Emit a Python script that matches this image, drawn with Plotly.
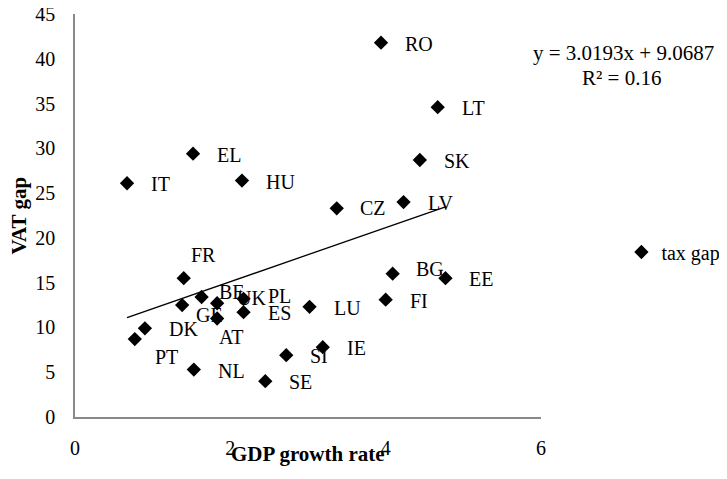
import plotly.graph_objects as go

# ---- data ----
countries = ["RO", "LT", "SK", "CZ", "LV", "EL", "IT", "HU", "FR", "BE",
             "GE", "UK", "AT", "PL", "ES", "DK", "PT", "NL", "SE", "SI",
             "IE", "LU", "FI", "BG", "EE"]
gdp_growth = [3.94, 4.67, 4.44, 3.37, 4.23, 1.52, 0.67, 2.15, 1.40, 1.63,
              1.38, 1.83, 1.83, 2.17, 2.17, 0.90, 0.77, 1.53, 2.45, 2.72,
              3.19, 3.02, 4.00, 4.09, 4.77]
vat_gap = [41.8, 34.6, 28.7, 23.3, 24.0, 29.4, 26.1, 26.4, 15.5, 13.4,
           12.5, 12.7, 11.0, 13.2, 11.7, 9.9, 8.7, 5.3, 4.0, 6.9,
           7.8, 12.3, 13.1, 16.0, 15.5]
trend_slope = 3.0193
trend_intercept = 9.0687
r_squared = 0.16
x_ticks = [0, 2, 4, 6]
y_ticks = [0, 5, 10, 15, 20, 25, 30, 35, 40, 45]

# ---- style: label offsets in pixels (dx to text left edge, dy downward) ----
default_off = (22, 1)
label_off = {
    "FR": (5, -23), "BE": (15, -5), "UK": (18, -5), "PL": (22, -3),
    "GE": (12, 10), "AT": (0, 19), "PT": (18, 18), "BG": (21, -5),
    "CZ": (21, 0),
}

FONT = "Liberation Serif, Times New Roman, serif"

# figure size (page body adds an 8px margin) and plot area in figure pixels
W, H = 719, 471
L, T = 67, 6
PW, PH = 466.5, 403


def px_x(p):   # figure pixel x -> paper
    return (p - L) / PW


def px_y(p):   # figure pixel y -> paper
    return (T + PH - p) / PH


fig = go.Figure()

xmin, xmax = min(gdp_growth), max(gdp_growth)
fig.add_trace(go.Scatter(
    x=[xmin, xmax],
    y=[trend_slope * xmin + trend_intercept, trend_slope * xmax + trend_intercept],
    mode="lines", line=dict(color="black", width=1.3),
    showlegend=False, hoverinfo="skip"))

fig.add_trace(go.Scatter(
    x=gdp_growth, y=vat_gap, mode="markers", name="tax gap",
    text=countries,
    marker=dict(symbol="diamond", size=11, color="black"),
    showlegend=True))

annotations = []
for c, xv, yv in zip(countries, gdp_growth, vat_gap):
    dx, dy = label_off.get(c, default_off)
    annotations.append(dict(
        x=xv, y=yv, xref="x", yref="y", text=c, showarrow=False,
        xanchor="left", yanchor="middle", xshift=dx, yshift=-dy,
        font=dict(family=FONT, size=20, color="black")))

annotations.append(dict(
    x=px_x(616), y=px_y(45), xref="paper", yref="paper",
    text=f"y = {trend_slope}x + {trend_intercept}", showarrow=False,
    xanchor="center", yanchor="middle",
    font=dict(family=FONT, size=21, color="black")))
annotations.append(dict(
    x=px_x(614), y=px_y(70), xref="paper", yref="paper",
    text=f"R² = {r_squared}", showarrow=False,
    xanchor="center", yanchor="middle",
    font=dict(family=FONT, size=21, color="black")))

annotations.append(dict(
    x=0.5, y=px_y(446), xref="paper", yref="paper",
    text="<b>GDP growth rate</b>", showarrow=False,
    xanchor="center", yanchor="middle",
    font=dict(family=FONT, size=21, color="black")))
annotations.append(dict(
    x=px_x(10), y=0.5, xref="paper", yref="paper",
    text="<b>VAT gap</b>", showarrow=False, textangle=-90,
    xanchor="center", yanchor="middle",
    font=dict(family=FONT, size=21, color="black")))

fig.update_layout(
    width=W, height=H,
    margin=dict(l=L, r=W - L - PW, t=T, b=H - T - PH, autoexpand=False),
    paper_bgcolor="white", plot_bgcolor="white",
    font=dict(family=FONT, size=20, color="black"),
    annotations=annotations,
    legend=dict(x=px_x(614), y=px_y(244),
                xanchor="left", yanchor="middle",
                font=dict(family=FONT, size=20, color="black"),
                bgcolor="rgba(0,0,0,0)", itemwidth=30),
    xaxis=dict(range=[0, 6], tickvals=x_ticks, showgrid=False, zeroline=False,
               showline=True, linecolor="#898989", linewidth=1.5,
               automargin=False, ticklabeloverflow="allow",
               ticks="outside", ticklen=12, tickcolor="rgba(0,0,0,0)",
               tickfont=dict(family=FONT, size=20, color="black")),
    yaxis=dict(range=[0, 45], tickvals=y_ticks, showgrid=False, zeroline=False,
               showline=True, linecolor="#898989", linewidth=1.5,
               automargin=False, ticklabeloverflow="allow",
               ticks="outside", ticklen=14, tickcolor="rgba(0,0,0,0)",
               tickfont=dict(family=FONT, size=20, color="black")),
)

fig.write_html("out.html")
